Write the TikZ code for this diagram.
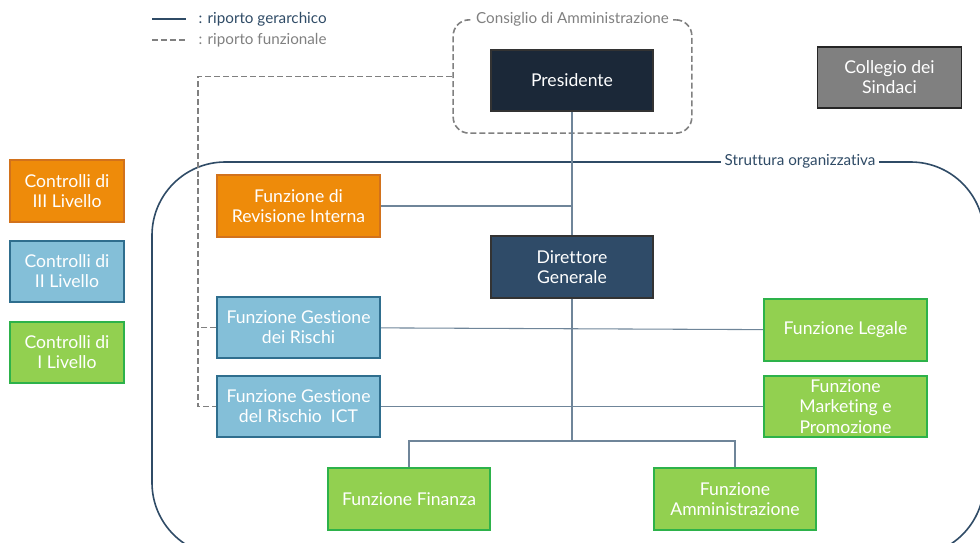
\documentclass[tikz,border=0pt]{standalone}
\usepackage{fontspec}
\setmainfont{Lato}[Ligatures=NoCommon]
\usetikzlibrary{positioning}

\definecolor{navy}{HTML}{1B2838}
\definecolor{dgblue}{HTML}{2F4B68}
\definecolor{orfill}{HTML}{EE8B0A}
\definecolor{ordraw}{HTML}{D2721C}
\definecolor{blfill}{HTML}{84BFD8}
\definecolor{bldraw}{HTML}{2F6E8E}
\definecolor{grfill}{HTML}{92D050}
\definecolor{grdraw}{HTML}{2DB24A}
\definecolor{linkcol}{HTML}{6F8599}
\definecolor{framecol}{HTML}{2F4B66}
\definecolor{dashcol}{HTML}{808080}

\tikzset{
  box/.style={rectangle, text=white, align=center, line width=1.4pt,
    minimum width=122pt, minimum height=46pt, inner sep=1pt,
    font=\fontsize{13.2}{15}\selectfont},
  orbox/.style={box, fill=orfill, draw=ordraw},
  blbox/.style={box, fill=blfill, draw=bldraw},
  grbox/.style={box, fill=grfill, draw=grdraw},
  smallbox/.style={minimum width=85pt},
  small/.style={font=\fontsize{11.4}{13}\selectfont},
  link/.style={draw=linkcol, line width=0.8pt},
  func/.style={draw=dashcol, line width=1.2pt, dash pattern=on 4.5pt off 2.2pt},
}

\begin{document}
\begin{tikzpicture}[x=0.75pt, y=-0.75pt]
    \useasboundingbox (0,0) rectangle (980,542);

    % legenda
    \draw[framecol, line width=1.2pt] (152,19) -- (186,19);
    \draw[func] (152,40) -- (186,40);
    \node[anchor=west, text=framecol, small] (leg1) at (194,19) {: riporto gerarchico};
    \node[anchor=west, text=dashcol, small] (leg2) at (194,40) {: riporto funzionale};

    % struttura organizzativa
    \draw[framecol, line width=1.2pt, rounded corners=55pt] (152,162) rectangle (984,556);
    \node[fill=white, inner sep=3pt, text=framecol, small] (struttura) at (800,161) {Struttura organizzativa};

    % consiglio di amministrazione
    \node[draw=dashcol, line width=1.2pt, dash pattern=on 4.5pt off 2.2pt, rounded corners=12pt,
          minimum width=179pt, minimum height=85pt] (cda) at (572.5,76.5) {};
    \node[fill=white, inner sep=3pt, text=dashcol, small] (cdalabel) at (cda.north) {Consiglio di Amministrazione};

    % vertice
    \node[box, fill=navy, draw=black!80] (pres) at (572,80.5) {Presidente};
    \node[box, fill=dgblue, draw=black!80] (dg) at (572,267) {Direttore\\Generale};
    \node[box, fill=gray, draw=black!85, minimum width=108pt] (sind) at (889.5,77.5) {Collegio dei\\Sindaci};

    % livelli di controllo
    \node[orbox, smallbox] (c3) at (67,191) {Controlli di\\III Livello};
    \node[blbox, smallbox] (c2) at (67,271.5) {Controlli di\\II Livello};
    \node[grbox, smallbox] (c1) at (67,352.5) {Controlli di\\I Livello};

    % funzioni
    \node[orbox] (rev) at (298.5,206) {Funzione di\\Revisione Interna};
    \node[blbox] (rischi) at (298.5,327.5) {Funzione Gestione\\dei Rischi};
    \node[blbox] (ict) at (298.5,406.5) {Funzione Gestione\\del Rischio\ \ ICT};
    \node[grbox] (legale) at (845.5,330) {Funzione Legale};
    \node[grbox, font=\fontsize{13.2}{15.5}\selectfont] (mkt) at (845.5,406.5) {Funzione\\Marketing e\\Promozione};
    \node[grbox] (fin) at (409,499) {Funzione Finanza};
    \node[grbox] (amm) at (735,499) {Funzione\\Amministrazione};

    % riporto gerarchico
    \coordinate (bus) at (572,441);
    \draw[link] (pres) -- (dg);
    \draw[link] (dg) -- (bus);
    \draw[link] (rev.east) -- (rev.east -| pres.south);
    \draw[link] (rischi) -- (legale);
    \draw[link] (ict) -- (mkt);
    \draw[link] (bus) -| (fin);
    \draw[link] (bus) -| (amm);

    % riporto funzionale
    \coordinate (fx) at (198,406.5);
    \draw[func] (cda.west) -| (fx) -- (ict.west);
    \draw[func] (rischi.west) -- (rischi.west -| fx);
\end{tikzpicture}
\end{document}
